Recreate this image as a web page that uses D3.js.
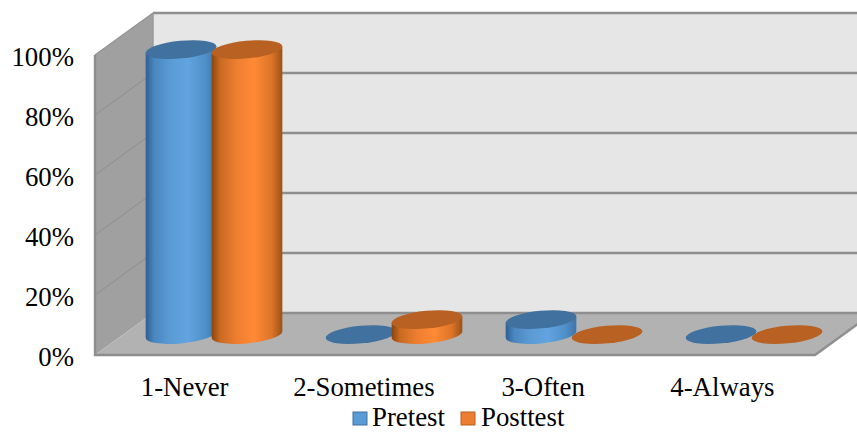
<!DOCTYPE html>
<html>
<head>
<meta charset="utf-8">
<script src="https://cdn.jsdelivr.net/npm/d3@7/dist/d3.min.js"></script>
<style>
  html, body { margin: 0; padding: 0; background: #fff; }
  svg { display: block; }
  text { font-family: "Liberation Serif", serif; fill: #000; }
</style>
</head>
<body>
<div id="chart"></div>
<script>
const categories = ["1-Never", "2-Sometimes", "3-Often", "4-Always"];
const seriesNames = ["Pretest", "Posttest"];
const pretest = [95, 0, 5, 0];
const posttest = [95, 5, 0, 0];
const tickValues = [0, 20, 40, 60, 80, 100];

const W = 857, H = 432;
const labelSize = 26.8;
const svg = d3.select("#chart").append("svg").attr("width", W).attr("height", H);
const defs = svg.append("defs");

// Oblique box: the front plane is shifted by (dx, dy) to reach the back wall.
const front = { left: 95, right: 815, bottom: 355, top: 55 };
const depth = { dx: 58, dy: -42 };
const yFront = d3.scaleLinear().domain([0, 100]).range([front.bottom, front.top]);
const yBack = v => yFront(v) + depth.dy;
const backLeft = front.left + depth.dx;
const backRight = front.right + depth.dx;

// Columns stand halfway between the front plane and the back wall.
const xMid = d3.scaleBand().domain(categories)
  .range([front.left + depth.dx / 2, front.right + depth.dx / 2]);
const xLabels = d3.scaleBand().domain(categories).range([95, 812]);
const yMid = v => yFront(v) + depth.dy / 2 + 0.6;
const pairOffset = 33;

const colors = {
  Pretest:  { stops: ["#2f5f91", "#4a86bf", "#5b9bd5", "#62a4e0", "#4f8ec8", "#3f74a8"], cap: "#41719f", swatch: "#5b9bd5" },
  Posttest: { stops: ["#8a4510", "#c96a22", "#ed7d31", "#ff8a35", "#dd7428", "#9a5217"], cap: "#b86123", swatch: "#ed7d31" }
};
seriesNames.forEach(name => {
  const g = defs.append("linearGradient").attr("id", "body-" + name)
    .attr("x1", 0).attr("x2", 1).attr("y1", 0).attr("y2", 0);
  [0, 0.12, 0.35, 0.6, 0.85, 1].forEach((o, i) =>
    g.append("stop").attr("offset", o).attr("stop-color", colors[name].stops[i]));
});

// Walls and floor
const poly = pts => "M" + pts.map(p => p.join(",")).join("L") + "Z";
const plot = svg.append("g");

plot.append("path").attr("fill", "#e6e6e6").attr("d", poly([
  [backLeft, yBack(100)], [backRight, yBack(100)], [backRight, yBack(0)], [backLeft, yBack(0)]
]));
plot.append("path").attr("fill", "#a0a0a0").attr("d", poly([
  [front.left, yFront(100)], [backLeft, yBack(100)], [backLeft, yBack(0)], [front.left, yFront(0)]
]));
plot.append("path").attr("fill", "#b2b2b2").attr("d", poly([
  [front.left, yFront(0)], [backLeft, yBack(0)], [backRight, yBack(0)], [front.right, yFront(0)]
]));

// Gridlines on the back wall and their faint continuation on the side wall
tickValues.forEach(v => {
  plot.append("line").attr("x1", backLeft).attr("x2", backRight)
    .attr("y1", yBack(v)).attr("y2", yBack(v))
    .attr("stroke", "#8e8e8e").attr("stroke-width", 2.4);
  if (v > 0) {
    plot.append("line").attr("x1", front.left).attr("x2", backLeft)
      .attr("y1", yFront(v)).attr("y2", yBack(v))
      .attr("stroke", "#949494").attr("stroke-width", 1.4);
  }
});
// Outer edges of the box
plot.append("path").attr("fill", "none").attr("stroke", "#8e8e8e").attr("stroke-width", 2.4)
  .attr("d", `M${front.left},${yFront(100)}L${front.left},${yFront(0)}L${front.right},${yFront(0)}L${backRight},${yBack(0)}`);
plot.append("line").attr("x1", backLeft).attr("y1", yBack(100)).attr("x2", backLeft).attr("y2", yBack(0))
  .attr("stroke", "#9a9a9a").attr("stroke-width", 1.5);

// Cylinders: tilted elliptical ends joined by a shaded side
const rx = 35.5, ry = 8.8, tiltDeg = -5.5;
const tilt = tiltDeg * Math.PI / 180;
// Horizontal half width and vertical offset of the ellipse's side extremes
const halfW = Math.sqrt(rx * rx * Math.cos(tilt) ** 2 + ry * ry * Math.sin(tilt) ** 2);
const sideDy = Math.abs((rx * rx - ry * ry) * Math.sin(tilt) * Math.cos(tilt)) / halfW;

const bars = [];
categories.forEach((c, i) => {
  bars.push({ cat: c, series: "Pretest", value: pretest[i], offset: -pairOffset });
  bars.push({ cat: c, series: "Posttest", value: posttest[i], offset: pairOffset });
});
// Empty values lie flat on the floor and are painted beneath the standing columns,
// the second series first so the first overlaps it.
const flat = bars.filter(d => d.value === 0).reverse();
const standing = bars.filter(d => d.value > 0);

const barG = plot.append("g").selectAll("g").data(flat.concat(standing)).join("g")
  .attr("transform", d => `translate(${xMid(d.cat) + xMid.bandwidth() / 2 + d.offset},0)`);

barG.filter(d => d.value > 0).append("path")
  .attr("fill", d => `url(#body-${d.series})`)
  .attr("d", d => {
    const yb = yMid(0), yt = yMid(d.value);
    return `M${-halfW},${yt + sideDy}L${-halfW},${yb + sideDy}` +
      `A${rx},${ry} ${tiltDeg} 0 0 ${halfW},${yb - sideDy}L${halfW},${yt - sideDy}Z`;
  });
barG.append("ellipse")
  .attr("rx", rx).attr("ry", ry)
  .attr("transform", d => `translate(0,${yMid(d.value)}) rotate(${tiltDeg})`)
  .attr("fill", d => colors[d.series].cap);

// Axes
const yAxis = d3.axisLeft(yFront).tickValues(tickValues).tickSize(0).tickPadding(0)
  .tickFormat(d => d + "%");
svg.append("g").attr("transform", "translate(74,2)").call(yAxis)
  .call(g => g.select(".domain").remove())
  .selectAll("text").attr("font-size", labelSize).style("font-family", '"Liberation Serif", serif');

const xAxis = d3.axisBottom(xLabels).tickSize(0).tickPadding(0);
svg.append("g").attr("transform", "translate(0,377)").call(xAxis)
  .call(g => g.select(".domain").remove())
  .selectAll("text").attr("font-size", labelSize).style("font-family", '"Liberation Serif", serif');

// Legend
const legendItems = [
  { name: seriesNames[0], box: 353, label: 372 },
  { name: seriesNames[1], box: 461, label: 481 }
];
const legend = svg.append("g").selectAll("g").data(legendItems).join("g");
legend.append("rect").attr("x", d => d.box).attr("y", 412).attr("width", 14).attr("height", 13)
  .attr("fill", d => colors[d.name].swatch).attr("stroke", d => colors[d.name].cap).attr("stroke-width", 1);
legend.append("text").attr("x", d => d.label).attr("y", 425.5).attr("font-size", labelSize).text(d => d.name);
</script>
</body>
</html>
